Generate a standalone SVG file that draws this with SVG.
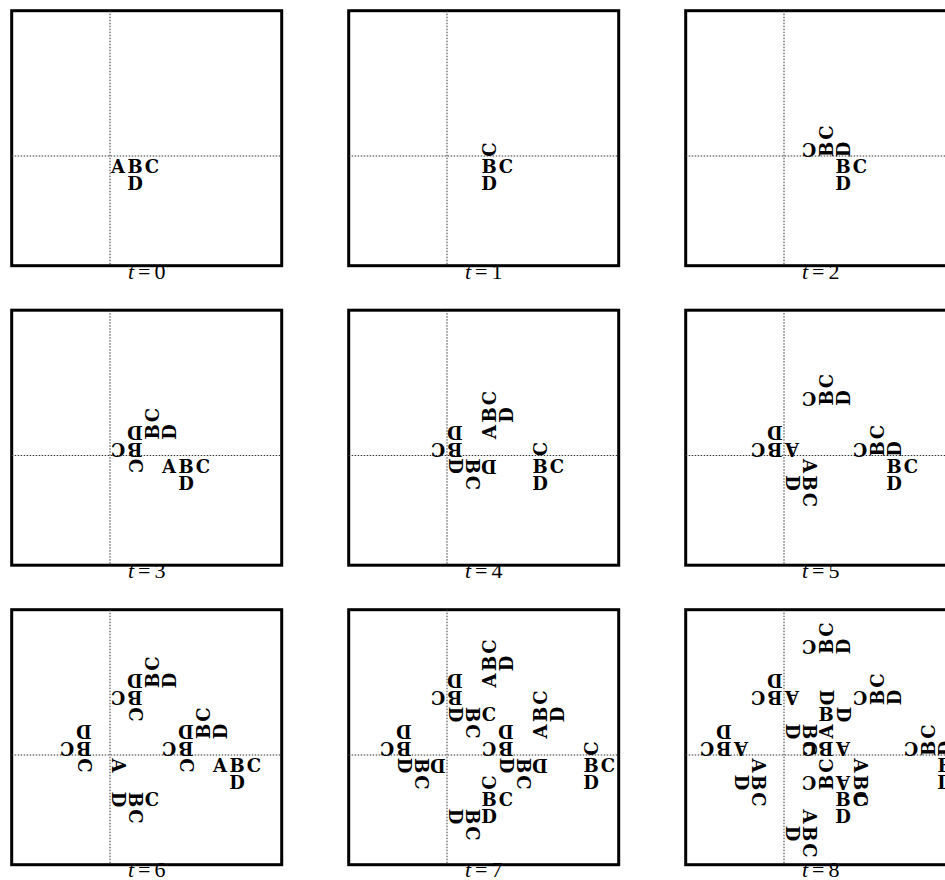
<svg xmlns="http://www.w3.org/2000/svg" width="945" height="880" viewBox="0 0 945 880">
<style>
.g{font-family:"DejaVu Serif","Liberation Serif",serif;font-weight:bold;font-size:18px;text-anchor:middle;fill:#000}
.box{fill:none;stroke:#000;stroke-width:3}
.ax{fill:none;stroke:#333;stroke-width:1;stroke-dasharray:1.5 1.5}
.lbl{font-family:"Liberation Serif","Times New Roman",serif;font-size:22px;text-anchor:middle;fill:#000}
</style>
<defs>
<g id="frame">
<rect class="box" x="-98.3" y="-145.3" width="270" height="255"/>
<line class="ax" x1="0" y1="-145.3" x2="0" y2="109.7"/>
<line class="ax" x1="-98.3" y1="0" x2="171.7" y2="0"/>
</g>
</defs>
<rect width="945" height="880" fill="#fff"/>

<g id="panel-t0" transform="translate(110,156)">
<use href="#frame"/>
<text class="g" x="8" y="17">A</text>
<text class="g" x="25" y="17">B</text>
<text class="g" x="42" y="17">C</text>
<text class="g" x="25" y="34">D</text>
<text class="lbl" x="36.7" y="122.5"><tspan font-style="italic">t</tspan><tspan dx="4">=</tspan><tspan dx="4">0</tspan></text>
</g>

<g id="panel-t1" transform="translate(447,156)">
<use href="#frame"/>
<text class="g" x="42" y="0" transform="rotate(-90 42 -6.5)">C</text>
<text class="g" x="42" y="17">B</text>
<text class="g" x="59" y="17">C</text>
<text class="g" x="42" y="34">D</text>
<text class="lbl" x="36.7" y="122.5"><tspan font-style="italic">t</tspan><tspan dx="4">=</tspan><tspan dx="4">1</tspan></text>
</g>

<g id="panel-t2" transform="translate(784,156)">
<use href="#frame"/>
<text class="g" x="42" y="-17" transform="rotate(-90 42 -23.5)">C</text>
<text class="g" x="25" y="0" transform="rotate(180 25 -6.5)">C</text>
<text class="g" x="42" y="0" transform="rotate(-90 42 -6.5)">B</text>
<text class="g" x="59" y="0" transform="rotate(-90 59 -6.5)">D</text>
<text class="g" x="59" y="17">B</text>
<text class="g" x="76" y="17">C</text>
<text class="g" x="59" y="34">D</text>
<text class="lbl" x="36.7" y="122.5"><tspan font-style="italic">t</tspan><tspan dx="4">=</tspan><tspan dx="4">2</tspan></text>
</g>

<g id="panel-t3" transform="translate(110,455.5)">
<use href="#frame"/>
<text class="g" x="42" y="-17" transform="rotate(-90 42 -23.5)">B</text>
<text class="g" x="42" y="-34" transform="rotate(-90 42 -40.5)">C</text>
<text class="g" x="59" y="-17" transform="rotate(-90 59 -23.5)">D</text>
<text class="g" x="25" y="0" transform="rotate(180 25 -6.5)">B</text>
<text class="g" x="8" y="0" transform="rotate(180 8 -6.5)">C</text>
<text class="g" x="25" y="-17" transform="rotate(180 25 -23.5)">D</text>
<text class="g" x="25" y="17" transform="rotate(90 25 10.5)">C</text>
<text class="g" x="59" y="17">A</text>
<text class="g" x="76" y="17">B</text>
<text class="g" x="93" y="17">C</text>
<text class="g" x="76" y="34">D</text>
<text class="lbl" x="36.7" y="122.5"><tspan font-style="italic">t</tspan><tspan dx="4">=</tspan><tspan dx="4">3</tspan></text>
</g>

<g id="panel-t4" transform="translate(447,455.5)">
<use href="#frame"/>
<text class="g" x="42" y="-17" transform="rotate(-90 42 -23.5)">A</text>
<text class="g" x="42" y="-34" transform="rotate(-90 42 -40.5)">B</text>
<text class="g" x="42" y="-51" transform="rotate(-90 42 -57.5)">C</text>
<text class="g" x="59" y="-34" transform="rotate(-90 59 -40.5)">D</text>
<text class="g" x="8" y="0" transform="rotate(180 8 -6.5)">B</text>
<text class="g" x="-9" y="0" transform="rotate(180 -9 -6.5)">C</text>
<text class="g" x="8" y="-17" transform="rotate(180 8 -23.5)">D</text>
<text class="g" x="25" y="17" transform="rotate(90 25 10.5)">B</text>
<text class="g" x="25" y="34" transform="rotate(90 25 27.5)">C</text>
<text class="g" x="8" y="17" transform="rotate(90 8 10.5)">D</text>
<text class="g" x="42" y="17" transform="rotate(180 42 10.5)">D</text>
<text class="g" x="93" y="0" transform="rotate(-90 93 -6.5)">C</text>
<text class="g" x="93" y="17">B</text>
<text class="g" x="110" y="17">C</text>
<text class="g" x="93" y="34">D</text>
<text class="lbl" x="36.7" y="122.5"><tspan font-style="italic">t</tspan><tspan dx="4">=</tspan><tspan dx="4">4</tspan></text>
</g>

<g id="panel-t5" transform="translate(784,455.5)">
<use href="#frame"/>
<text class="g" x="42" y="-51" transform="rotate(-90 42 -57.5)">B</text>
<text class="g" x="42" y="-68" transform="rotate(-90 42 -74.5)">C</text>
<text class="g" x="59" y="-51" transform="rotate(-90 59 -57.5)">D</text>
<text class="g" x="25" y="-51" transform="rotate(180 25 -57.5)">C</text>
<text class="g" x="93" y="0" transform="rotate(-90 93 -6.5)">B</text>
<text class="g" x="93" y="-17" transform="rotate(-90 93 -23.5)">C</text>
<text class="g" x="110" y="0" transform="rotate(-90 110 -6.5)">D</text>
<text class="g" x="76" y="0" transform="rotate(180 76 -6.5)">C</text>
<text class="g" x="8" y="0" transform="rotate(180 8 -6.5)">A</text>
<text class="g" x="-9" y="0" transform="rotate(180 -9 -6.5)">B</text>
<text class="g" x="-26" y="0" transform="rotate(180 -26 -6.5)">C</text>
<text class="g" x="-9" y="-17" transform="rotate(180 -9 -23.5)">D</text>
<text class="g" x="25" y="17" transform="rotate(90 25 10.5)">A</text>
<text class="g" x="25" y="34" transform="rotate(90 25 27.5)">B</text>
<text class="g" x="25" y="51" transform="rotate(90 25 44.5)">C</text>
<text class="g" x="8" y="34" transform="rotate(90 8 27.5)">D</text>
<text class="g" x="110" y="17">B</text>
<text class="g" x="127" y="17">C</text>
<text class="g" x="110" y="34">D</text>
<text class="lbl" x="36.7" y="122.5"><tspan font-style="italic">t</tspan><tspan dx="4">=</tspan><tspan dx="4">5</tspan></text>
</g>

<g id="panel-t6" transform="translate(110,755)">
<use href="#frame"/>
<text class="g" x="42" y="-68" transform="rotate(-90 42 -74.5)">B</text>
<text class="g" x="42" y="-85" transform="rotate(-90 42 -91.5)">C</text>
<text class="g" x="59" y="-68" transform="rotate(-90 59 -74.5)">D</text>
<text class="g" x="25" y="-51" transform="rotate(180 25 -57.5)">B</text>
<text class="g" x="8" y="-51" transform="rotate(180 8 -57.5)">C</text>
<text class="g" x="25" y="-68" transform="rotate(180 25 -74.5)">D</text>
<text class="g" x="25" y="-34" transform="rotate(90 25 -40.5)">C</text>
<text class="g" x="93" y="-17" transform="rotate(-90 93 -23.5)">B</text>
<text class="g" x="93" y="-34" transform="rotate(-90 93 -40.5)">C</text>
<text class="g" x="110" y="-17" transform="rotate(-90 110 -23.5)">D</text>
<text class="g" x="76" y="0" transform="rotate(180 76 -6.5)">B</text>
<text class="g" x="59" y="0" transform="rotate(180 59 -6.5)">C</text>
<text class="g" x="76" y="-17" transform="rotate(180 76 -23.5)">D</text>
<text class="g" x="76" y="17" transform="rotate(90 76 10.5)">C</text>
<text class="g" x="-26" y="0" transform="rotate(180 -26 -6.5)">B</text>
<text class="g" x="-43" y="0" transform="rotate(180 -43 -6.5)">C</text>
<text class="g" x="-26" y="-17" transform="rotate(180 -26 -23.5)">D</text>
<text class="g" x="-26" y="17" transform="rotate(90 -26 10.5)">C</text>
<text class="g" x="110" y="17">A</text>
<text class="g" x="127" y="17">B</text>
<text class="g" x="144" y="17">C</text>
<text class="g" x="127" y="34">D</text>
<text class="g" x="8" y="17" transform="rotate(90 8 10.5)">A</text>
<text class="g" x="25" y="51" transform="rotate(90 25 44.5)">B</text>
<text class="g" x="25" y="68" transform="rotate(90 25 61.5)">C</text>
<text class="g" x="8" y="51" transform="rotate(90 8 44.5)">D</text>
<text class="g" x="42" y="51">C</text>
<text class="lbl" x="36.7" y="121.5"><tspan font-style="italic">t</tspan><tspan dx="4">=</tspan><tspan dx="4">6</tspan></text>
</g>

<g id="panel-t7" transform="translate(447,755)">
<use href="#frame"/>
<text class="g" x="42" y="-68" transform="rotate(-90 42 -74.5)">A</text>
<text class="g" x="42" y="-85" transform="rotate(-90 42 -91.5)">B</text>
<text class="g" x="42" y="-102" transform="rotate(-90 42 -108.5)">C</text>
<text class="g" x="59" y="-85" transform="rotate(-90 59 -91.5)">D</text>
<text class="g" x="8" y="-51" transform="rotate(180 8 -57.5)">B</text>
<text class="g" x="-9" y="-51" transform="rotate(180 -9 -57.5)">C</text>
<text class="g" x="8" y="-68" transform="rotate(180 8 -74.5)">D</text>
<text class="g" x="25" y="-34" transform="rotate(90 25 -40.5)">B</text>
<text class="g" x="25" y="-17" transform="rotate(90 25 -23.5)">C</text>
<text class="g" x="8" y="-34" transform="rotate(90 8 -40.5)">D</text>
<text class="g" x="42" y="-34">C</text>
<text class="g" x="93" y="-17" transform="rotate(-90 93 -23.5)">A</text>
<text class="g" x="93" y="-34" transform="rotate(-90 93 -40.5)">B</text>
<text class="g" x="93" y="-51" transform="rotate(-90 93 -57.5)">C</text>
<text class="g" x="110" y="-34" transform="rotate(-90 110 -40.5)">D</text>
<text class="g" x="59" y="0" transform="rotate(180 59 -6.5)">B</text>
<text class="g" x="42" y="0" transform="rotate(180 42 -6.5)">C</text>
<text class="g" x="59" y="-17" transform="rotate(180 59 -23.5)">D</text>
<text class="g" x="76" y="17" transform="rotate(90 76 10.5)">B</text>
<text class="g" x="76" y="34" transform="rotate(90 76 27.5)">C</text>
<text class="g" x="59" y="17" transform="rotate(90 59 10.5)">D</text>
<text class="g" x="93" y="17" transform="rotate(180 93 10.5)">D</text>
<text class="g" x="-43" y="0" transform="rotate(180 -43 -6.5)">B</text>
<text class="g" x="-60" y="0" transform="rotate(180 -60 -6.5)">C</text>
<text class="g" x="-43" y="-17" transform="rotate(180 -43 -23.5)">D</text>
<text class="g" x="-26" y="17" transform="rotate(90 -26 10.5)">B</text>
<text class="g" x="-26" y="34" transform="rotate(90 -26 27.5)">C</text>
<text class="g" x="-43" y="17" transform="rotate(90 -43 10.5)">D</text>
<text class="g" x="-9" y="17" transform="rotate(180 -9 10.5)">D</text>
<text class="g" x="144" y="0" transform="rotate(-90 144 -6.5)">C</text>
<text class="g" x="144" y="17">B</text>
<text class="g" x="161" y="17">C</text>
<text class="g" x="144" y="34">D</text>
<text class="g" x="25" y="68" transform="rotate(90 25 61.5)">B</text>
<text class="g" x="25" y="85" transform="rotate(90 25 78.5)">C</text>
<text class="g" x="8" y="68" transform="rotate(90 8 61.5)">D</text>
<text class="g" x="42" y="34" transform="rotate(-90 42 27.5)">C</text>
<text class="g" x="42" y="51">B</text>
<text class="g" x="59" y="51">C</text>
<text class="g" x="42" y="68">D</text>
<text class="lbl" x="36.7" y="121.5"><tspan font-style="italic">t</tspan><tspan dx="4">=</tspan><tspan dx="4">7</tspan></text>
</g>

<g id="panel-t8" transform="translate(784,755)">
<use href="#frame"/>
<text class="g" x="42" y="-102" transform="rotate(-90 42 -108.5)">B</text>
<text class="g" x="42" y="-119" transform="rotate(-90 42 -125.5)">C</text>
<text class="g" x="59" y="-102" transform="rotate(-90 59 -108.5)">D</text>
<text class="g" x="25" y="-102" transform="rotate(180 25 -108.5)">C</text>
<text class="g" x="8" y="-51" transform="rotate(180 8 -57.5)">A</text>
<text class="g" x="-9" y="-51" transform="rotate(180 -9 -57.5)">B</text>
<text class="g" x="-26" y="-51" transform="rotate(180 -26 -57.5)">C</text>
<text class="g" x="-9" y="-68" transform="rotate(180 -9 -74.5)">D</text>
<text class="g" x="93" y="-51" transform="rotate(-90 93 -57.5)">B</text>
<text class="g" x="93" y="-68" transform="rotate(-90 93 -74.5)">C</text>
<text class="g" x="110" y="-51" transform="rotate(-90 110 -57.5)">D</text>
<text class="g" x="76" y="-51" transform="rotate(180 76 -57.5)">C</text>
<text class="g" x="-43" y="0" transform="rotate(180 -43 -6.5)">A</text>
<text class="g" x="-60" y="0" transform="rotate(180 -60 -6.5)">B</text>
<text class="g" x="-77" y="0" transform="rotate(180 -77 -6.5)">C</text>
<text class="g" x="-60" y="-17" transform="rotate(180 -60 -23.5)">D</text>
<text class="g" x="-26" y="17" transform="rotate(90 -26 10.5)">A</text>
<text class="g" x="-26" y="34" transform="rotate(90 -26 27.5)">B</text>
<text class="g" x="-26" y="51" transform="rotate(90 -26 44.5)">C</text>
<text class="g" x="-43" y="34" transform="rotate(90 -43 27.5)">D</text>
<text class="g" x="144" y="0" transform="rotate(-90 144 -6.5)">B</text>
<text class="g" x="144" y="-17" transform="rotate(-90 144 -23.5)">C</text>
<text class="g" x="161" y="0" transform="rotate(-90 161 -6.5)">D</text>
<text class="g" x="127" y="0" transform="rotate(180 127 -6.5)">C</text>
<text class="g" x="161" y="17">B</text>
<text class="g" x="178" y="17">C</text>
<text class="g" x="161" y="34">D</text>
<text class="g" x="25" y="68" transform="rotate(90 25 61.5)">A</text>
<text class="g" x="25" y="85" transform="rotate(90 25 78.5)">B</text>
<text class="g" x="25" y="102" transform="rotate(90 25 95.5)">C</text>
<text class="g" x="8" y="85" transform="rotate(90 8 78.5)">D</text>
<text class="g" x="42" y="-51" transform="rotate(90 42 -57.5)">D</text>
<text class="g" x="42" y="-34">B</text>
<text class="g" x="59" y="-34" transform="rotate(90 59 -40.5)">D</text>
<text class="g" x="8" y="-17" transform="rotate(90 8 -23.5)">D</text>
<text class="g" x="25" y="-17" transform="rotate(90 25 -23.5)">B</text>
<text class="g" x="42" y="-17" transform="rotate(-90 42 -23.5)">A</text>
<text class="g" x="25" y="0" transform="rotate(180 25 -6.5)">C</text>
<text class="g" x="25" y="0" transform="rotate(90 25 -6.5)">C</text>
<text class="g" x="42" y="0" transform="rotate(180 42 -6.5)">B</text>
<text class="g" x="59" y="0" transform="rotate(180 59 -6.5)">A</text>
<text class="g" x="42" y="17" transform="rotate(-90 42 10.5)">C</text>
<text class="g" x="76" y="17" transform="rotate(90 76 10.5)">A</text>
<text class="g" x="25" y="34" transform="rotate(180 25 27.5)">C</text>
<text class="g" x="42" y="34" transform="rotate(-90 42 27.5)">B</text>
<text class="g" x="59" y="34" transform="rotate(180 59 27.5)">A</text>
<text class="g" x="76" y="34" transform="rotate(90 76 27.5)">B</text>
<text class="g" x="59" y="51">B</text>
<text class="g" x="76" y="51">C</text>
<text class="g" x="76" y="51" transform="rotate(90 76 44.5)">C</text>
<text class="g" x="59" y="68">D</text>
<text class="lbl" x="36.7" y="121.5"><tspan font-style="italic">t</tspan><tspan dx="4">=</tspan><tspan dx="4">8</tspan></text>
</g>
</svg>
